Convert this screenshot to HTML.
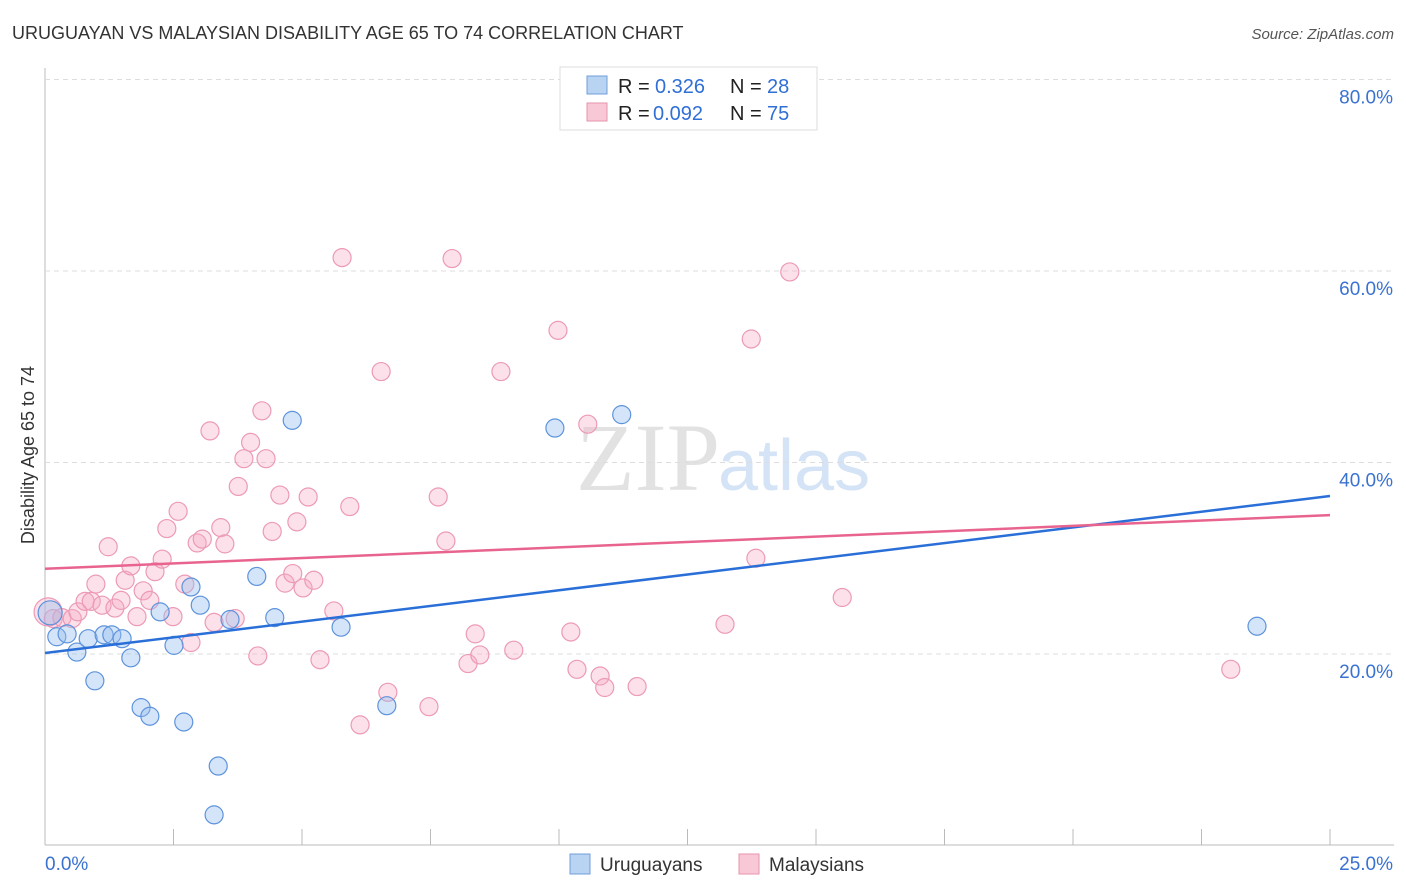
<!DOCTYPE html>
<html><head><meta charset="utf-8">
<style>
body{margin:0;background:#fff;width:1406px;height:892px;overflow:hidden;font-family:"Liberation Sans",sans-serif;}
svg{position:absolute;left:0;top:0}
</style></head>
<body>
<svg id="chart" width="1406" height="892">
<text x="12" y="39" font-size="18" fill="#333">URUGUAYAN VS MALAYSIAN DISABILITY AGE 65 TO 74 CORRELATION CHART</text>
<text x="1394" y="39" font-size="15" fill="#555" font-style="italic" text-anchor="end">Source: ZipAtlas.com</text>
<text x="720" y="490" font-size="96" fill="#e2e2e2" text-anchor="end" font-family="Liberation Serif, serif">ZIP</text>
<text x="718" y="490" font-size="72" fill="#d4e3f5">atlas</text>
<text transform="translate(34,455) rotate(-90)" font-size="18" fill="#333" text-anchor="middle">Disability Age 65 to 74</text>
<g id="grid"></g><g id="pts"></g><g id="lines"></g>
<g>
<rect x="560" y="67" width="257" height="63" fill="#fff" stroke="#ddd"/>
<rect x="587" y="76" width="20" height="18" fill="#b9d3f3" stroke="#6f9fd8"/>
<rect x="587" y="103" width="20" height="18" fill="#f9c8d6" stroke="#e793ae"/>
<text y="93" font-size="20" fill="#222"><tspan x="618">R =</tspan><tspan x="655" fill="#2f6fd6">0.326</tspan><tspan x="730">N =</tspan><tspan x="767" fill="#2f6fd6">28</tspan></text>
<text y="120" font-size="20" fill="#222"><tspan x="618">R =</tspan><tspan x="653" fill="#2f6fd6">0.092</tspan><tspan x="730">N =</tspan><tspan x="767" fill="#2f6fd6">75</tspan></text>
</g>
<g>
<rect x="570" y="854" width="20" height="20" fill="#b9d3f3" stroke="#6f9fd8"/>
<text x="600" y="871" font-size="19" fill="#333">Uruguayans</text>
<rect x="739" y="854" width="20" height="20" fill="#f9c8d6" stroke="#e793ae"/>
<text x="769" y="871" font-size="19" fill="#333">Malaysians</text>
</g>
</svg>
<script>
const yTicks=[20,40,60,80];
const xTickLabels=["0.0%","25.0%"];
const bluePts=[[0.1,24.3],[0.23,21.8],[0.43,22.1],[0.62,20.2],[0.84,21.6],[0.97,17.2],[1.15,22.0],[1.3,22.0],[1.5,21.6],[1.67,19.6],[1.87,14.4],[2.04,13.5],[2.24,24.4],[2.51,20.9],[2.7,12.9],[2.84,27.0],[3.02,25.1],[3.37,8.3],[3.29,3.2],[3.6,23.6],[4.12,28.1],[4.47,23.8],[4.81,44.4],[5.76,22.8],[6.65,14.6],[9.92,43.6],[11.22,45.0],[23.58,22.9]];
const pinkPts=[[0.06,24.4],[0.16,23.7],[0.33,23.8],[0.53,23.7],[0.64,24.4],[0.78,25.5],[0.9,25.5],[0.99,27.3],[1.11,25.1],[1.23,31.2],[1.36,24.8],[1.48,25.6],[1.56,27.7],[1.67,29.2],[1.79,23.9],[1.91,26.6],[2.04,25.6],[2.14,28.6],[2.28,29.9],[2.37,33.1],[2.49,23.9],[2.59,34.9],[2.72,27.3],[2.84,21.2],[2.96,31.6],[3.06,32.0],[3.21,43.3],[3.29,23.3],[3.42,33.2],[3.5,31.5],[3.7,23.7],[3.76,37.5],[3.87,40.4],[4.0,42.1],[4.14,19.8],[4.3,40.4],[4.22,45.4],[4.42,32.8],[4.57,36.6],[4.67,27.4],[4.82,28.4],[4.9,33.8],[5.02,26.9],[5.12,36.4],[5.23,27.7],[5.35,19.4],[5.62,24.5],[5.78,61.4],[5.93,35.4],[6.13,12.6],[6.54,49.5],[6.67,16.0],[7.47,14.5],[7.65,36.4],[7.8,31.8],[7.92,61.3],[8.23,19.0],[8.37,22.1],[8.46,19.9],[8.87,49.5],[9.12,20.4],[9.98,53.8],[10.23,22.3],[10.35,18.4],[10.56,44.0],[10.8,17.7],[10.89,16.5],[11.52,16.6],[13.23,23.1],[13.74,52.9],[13.83,30.0],[14.49,59.9],[15.51,25.9],[23.07,18.4]];
const blueLine=[20.1,36.5];
const pinkLine=[28.9,34.5];
const X=v=>45+v*51.4, Y=v=>845.5-v*9.575;
const ns="http://www.w3.org/2000/svg";
function mk(t,a,p){const e=document.createElementNS(ns,t);for(const k in a)e.setAttribute(k,a[k]);p.appendChild(e);return e;}
const g=document.getElementById('grid');
mk('line',{x1:45,y1:68,x2:45,y2:845,stroke:'#bbb'},g);
mk('line',{x1:45,y1:845,x2:1394,y2:845,stroke:'#bbb'},g);
for(let i=0;i<=10;i++){const l=mk('line',{x1:X(i*2.5),y1:829,x2:X(i*2.5),y2:845,stroke:'#bbb'},g);

}
yTicks.forEach(v=>{const l=mk('line',{x1:45,y1:Y(v),x2:1394,y2:Y(v),stroke:'#ddd','stroke-dasharray':'5,4'},g);


const t=mk('text',{x:1393,y:Y(v)+24,'font-size':19,fill:'#3a72d0','text-anchor':'end'},g);t.textContent=v.toFixed(1)+'%';

});
const t0=mk('text',{x:45,y:870,'font-size':19,fill:'#3a72d0'},g);t0.textContent=xTickLabels[0];


const t1=mk('text',{x:1393,y:870,'font-size':19,fill:'#3a72d0','text-anchor':'end'},g);t1.textContent=xTickLabels[1];


const p=document.getElementById('pts');
pinkPts.forEach((d,i)=>{const c=mk('circle',{cx:X(d[0]),cy:Y(d[1]),r:i==0?14:9,fill:'rgba(246,170,195,0.35)',stroke:'#ec9ab5','stroke-width':1.2},p);

});
bluePts.forEach((d,i)=>{const c=mk('circle',{cx:X(d[0]),cy:Y(d[1]),r:i==0?12:9,fill:'rgba(150,190,240,0.4)',stroke:'#5d93dc','stroke-width':1.2},p);

});
const L=document.getElementById('lines');
const bl=mk('line',{x1:X(0),y1:Y(blueLine[0]),x2:X(25),y2:Y(blueLine[1]),stroke:'#2a6fd8','stroke-width':2.5},L);


const pl=mk('line',{x1:X(0),y1:Y(pinkLine[0]),x2:X(25),y2:Y(pinkLine[1]),stroke:'#e8648f','stroke-width':2.5},L);


</script>
</body></html>
